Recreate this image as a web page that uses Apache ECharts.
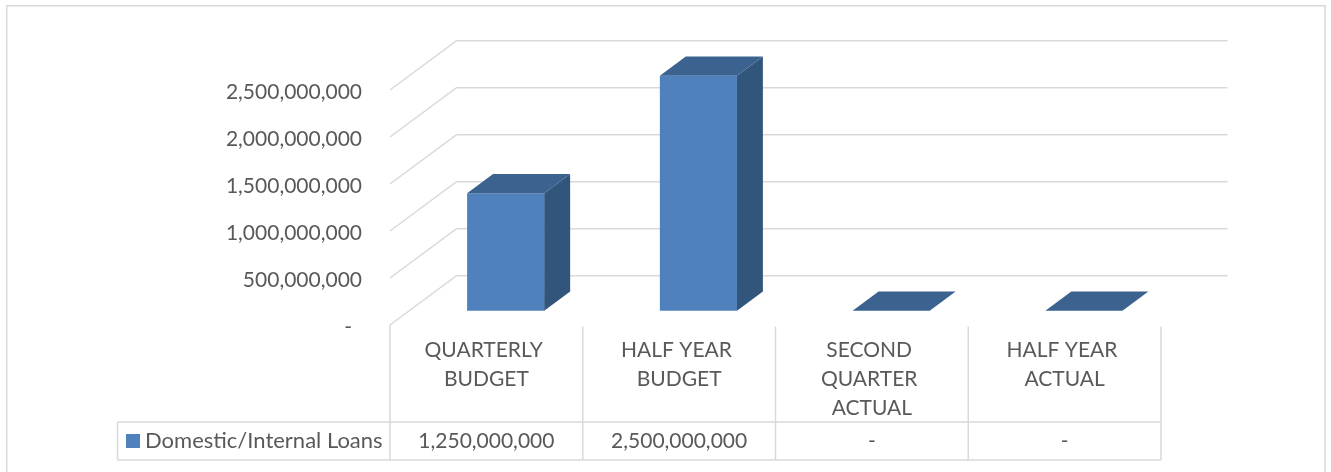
<!DOCTYPE html>
<html>
<head>
<meta charset="utf-8">
<script src="https://cdn.jsdelivr.net/npm/echarts@6/dist/echarts.min.js"></script>
<style>
  html, body { margin: 0; padding: 0; background: #ffffff; }
  #chart { width: 1331px; height: 472px; }
</style>
</head>
<body>
<div id="chart"></div>
<script>
// Domestic/Internal Loans: budget vs actual
const categories = ['QUARTERLY BUDGET', 'HALF YEAR BUDGET', 'SECOND QUARTER ACTUAL', 'HALF YEAR ACTUAL'];
const seriesName = 'Domestic/Internal Loans';
const loanValues = [1250000000, 2500000000, 0, 0];
const axisTicks = [0, 500000000, 1000000000, 1500000000, 2000000000, 2500000000];

// Pseudo-3D projection: offset of the back wall relative to the front plane
const DEPTH_X = 66.5;
const DEPTH_Y = -49.3;
const BAR_FRONT = 0.29;   // fraction of depth where the bar's front face sits
const BAR_DEPTH = 0.39;   // bar thickness as a fraction of depth
const BAR_WIDTH = 0.4;    // fraction of category band

const TEXT_COLOR = '#595959';
const LINE_COLOR = '#d9d9d9';
const FONT = 'Lato, "Open Sans", sans-serif';

// Table rows below the plot
const TABLE_TOP = 325;
const ROW_TOP = 422;
const ROW_BOTTOM = 460;
const LEGEND_CELL_LEFT = 117.5;

function withCommas(v) {
  const s = String(Math.round(v));
  return s.replace(/\B(?=(\d{3})+(?!\d))/g, ',');
}

const chart = echarts.init(document.getElementById('chart'), null, { renderer: 'canvas' });

function wallItem(params, api) {
  const v = api.value(0);
  const band = api.size([1, 0])[0];
  const pFirst = api.coord([0, v]);
  const pLast = api.coord([categories.length - 1, v]);
  const left = pFirst[0] - band / 2;
  const right = pLast[0] + band / 2;
  const y = pFirst[1];
  return {
    type: 'polyline',
    shape: { points: [[left, y], [left + DEPTH_X, y + DEPTH_Y], [right + DEPTH_X, y + DEPTH_Y]] },
    style: { stroke: LINE_COLOR, lineWidth: 1.5, fill: null }
  };
}

function barItem(params, api) {
  const i = api.value(0);
  const v = api.value(1);
  const band = api.size([1, 0])[0];
  const top = api.coord([i, v]);
  const base = api.coord([i, 0]);
  const w = band * BAR_WIDTH;
  const ox = DEPTH_X * BAR_FRONT, oy = DEPTH_Y * BAR_FRONT;
  const bx = DEPTH_X * BAR_DEPTH, by = DEPTH_Y * BAR_DEPTH;
  const x0 = top[0] - w / 2 + ox;
  const x1 = x0 + w;
  const yT = top[1] + oy;
  const yB = base[1] + oy;
  const children = [];
  if (yB - yT > 0.5) {
    children.push({
      type: 'polygon',
      shape: { points: [[x0, yT], [x1, yT], [x1, yB], [x0, yB]] },
      style: { fill: '#4f81bd' }
    });
    children.push({
      type: 'polygon',
      shape: { points: [[x1, yT], [x1 + bx, yT + by], [x1 + bx, yB + by], [x1, yB]] },
      style: { fill: '#32557c' }
    });
  }
  children.push({
    type: 'polygon',
    shape: { points: [[x0, yT], [x1, yT], [x1 + bx, yT + by], [x0 + bx, yT + by]] },
    style: { fill: '#3c6290' }
  });
  return { type: 'group', children: children };
}

function tableItem(params, api) {
  const i = api.value(0);
  const v = api.value(1);
  const band = api.size([1, 0])[0];
  const c = api.coord([i, 0]);
  const l = c[0] - band / 2;
  const r = c[0] + band / 2;
  const lineStyle = { stroke: LINE_COLOR, lineWidth: 1.5 };
  const children = [
    { type: 'line', shape: { x1: r, y1: TABLE_TOP + 1.5, x2: r, y2: ROW_BOTTOM }, style: lineStyle },
    { type: 'line', shape: { x1: l, y1: ROW_TOP, x2: r, y2: ROW_TOP }, style: lineStyle },
    { type: 'line', shape: { x1: l, y1: ROW_BOTTOM, x2: r, y2: ROW_BOTTOM }, style: lineStyle },
    {
      type: 'text',
      style: {
        x: c[0], y: (ROW_TOP + ROW_BOTTOM) / 2,
        text: v === 0 ? '-' : withCommas(v),
        align: 'center', verticalAlign: 'middle',
        fill: TEXT_COLOR, fontSize: 21, fontFamily: FONT
      }
    }
  ];
  if (i === 0) {
    children.push({ type: 'line', shape: { x1: l, y1: TABLE_TOP, x2: l, y2: ROW_BOTTOM }, style: lineStyle });
  }
  return { type: 'group', children: children };
}

const option = {
  animation: false,
  backgroundColor: '#ffffff',
  textStyle: { fontFamily: FONT },
  grid: { left: 390, top: 90, width: 771, height: 235, containLabel: false },
  xAxis: {
    type: 'category',
    data: categories,
    axisLine: { show: false },
    axisTick: { show: false },
    splitLine: { show: false },
    axisLabel: {
      interval: 0,
      margin: 11,
      width: 150,
      overflow: 'break',
      lineHeight: 29,
      fontSize: 21,
      fontFamily: FONT,
      color: TEXT_COLOR
    }
  },
  yAxis: {
    type: 'value',
    min: axisTicks[0],
    max: axisTicks[axisTicks.length - 1],
    interval: axisTicks[1] - axisTicks[0],
    axisLine: { show: false },
    axisTick: { show: false },
    splitLine: { show: false },
    axisLabel: {
      margin: 28,
      fontSize: 21,
      fontFamily: FONT,
      color: TEXT_COLOR,
      padding: [5, 0, 0, 0],
      formatter: function (v) { return v === 0 ? '{d|-}' : withCommas(v); },
      rich: { d: { fontSize: 21, fontFamily: FONT, color: TEXT_COLOR, padding: [0, 10, 0, 0] } }
    }
  },
  legend: {
    data: [seriesName],
    left: 126,
    top: 430,
    padding: 0,
    itemWidth: 14,
    itemHeight: 14,
    icon: 'rect',
    selectedMode: false,
    textStyle: { fontSize: 22, fontFamily: FONT, color: TEXT_COLOR, lineHeight: 22 }
  },
  graphic: [
    // outer chart frame
    { type: 'rect', shape: { x: 6.7, y: 5.7, width: 1318.3, height: 520 }, style: { fill: null, stroke: LINE_COLOR, lineWidth: 1.5 }, silent: true },
    // legend cell of the data table
    { type: 'line', shape: { x1: LEGEND_CELL_LEFT, y1: ROW_TOP, x2: 390, y2: ROW_TOP }, style: { stroke: LINE_COLOR, lineWidth: 1.5 }, silent: true },
    { type: 'line', shape: { x1: LEGEND_CELL_LEFT, y1: ROW_BOTTOM, x2: 390, y2: ROW_BOTTOM }, style: { stroke: LINE_COLOR, lineWidth: 1.5 }, silent: true },
    { type: 'line', shape: { x1: LEGEND_CELL_LEFT, y1: ROW_TOP, x2: LEGEND_CELL_LEFT, y2: ROW_BOTTOM }, style: { stroke: LINE_COLOR, lineWidth: 1.5 }, silent: true }
  ],
  series: [
    {
      name: 'walls',
      type: 'custom',
      renderItem: wallItem,
      data: axisTicks.map(function (t) { return [t]; }),
      encode: { y: 0 },
      silent: true,
      z: 1
    },
    {
      name: seriesName,
      type: 'custom',
      renderItem: barItem,
      itemStyle: { color: '#4f81bd' },
      data: loanValues.map(function (v, i) { return [i, v]; }),
      encode: { x: 0, y: 1 },
      z: 3
    },
    {
      name: 'table',
      type: 'custom',
      renderItem: tableItem,
      data: loanValues.map(function (v, i) { return [i, v]; }),
      encode: { x: 0, y: 1 },
      silent: true,
      z: 2
    }
  ]
};

chart.setOption(option);
</script>
</body>
</html>
